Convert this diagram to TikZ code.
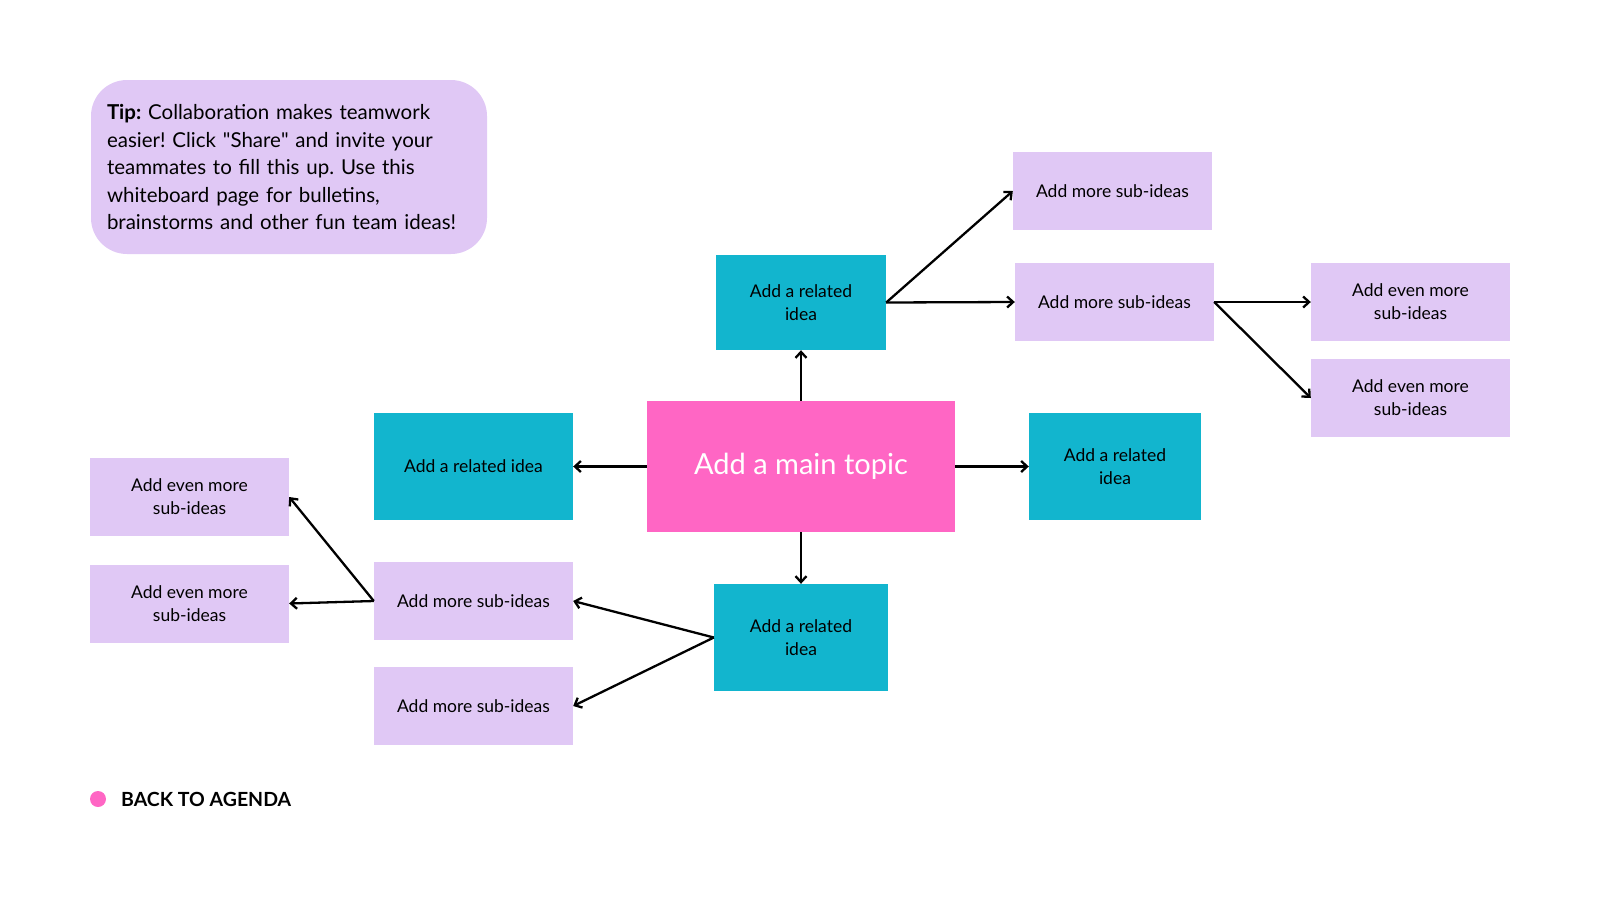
\documentclass[tikz,border=0pt]{standalone}
\usepackage{fontspec}
\setmainfont{Lato}
\usetikzlibrary{arrows.meta}
\frenchspacing

\definecolor{ideateal}{HTML}{12B5CE}
\definecolor{topicpink}{HTML}{FF66C4}
\definecolor{sublilac}{HTML}{E0C8F5}

\tikzset{
    topic/.style={fill=topicpink, text=white, minimum width=308, minimum height=131, inner sep=0, font=\fontsize{29}{33}\selectfont},
    related/.style={fill=ideateal, minimum height=107, inner sep=0, align=center, font=\fontsize{17.5}{23}\selectfont},
    subidea/.style={fill=sublilac, minimum width=199, minimum height=78, inner sep=0, align=center, font=\fontsize{17.5}{23}\selectfont},
    link/.style={-{Straight Barb[length=6pt, width=11pt]}, line width=2.3pt},
}

\begin{document}
\begin{tikzpicture}[x=1pt, y=-1pt]
    \useasboundingbox (0,0) rectangle (1600,900);

    \node[fill=sublilac, rounded corners=36, text width=364, minimum height=174, inner xsep=16, align=left,
          font=\fontsize{20.5}{27.5}\selectfont] (tip) at (289,167)
        {\textbf{Tip:} Collaboration makes teamwork\\
         easier! Click \textquotedbl Share\textquotedbl{} and invite your\\
         teammates to fill this up. Use this\\
         whiteboard page for bulletins,\\
         brainstorms and other fun team ideas!};

    \node[topic] (main) at (801,466.5) {Add a main topic};

    \node[related, minimum width=170, minimum height=95] (reltop) at (801,302.5) {Add a related\\idea};
    \node[related, minimum width=199] (relleft) at (473.5,466.5) {Add a related idea};
    \node[related, minimum width=172] (relright) at (1115,466.5) {Add a related\\idea};
    \node[related, minimum width=174] (relbot) at (801,637.5) {Add a related\\idea};

    \node[subidea] (subone) at (1112.5,191) {Add more sub-ideas};
    \node[subidea] (subtwo) at (1114.5,302) {Add more sub-ideas};
    \node[subidea] (subthree) at (473.5,601) {Add more sub-ideas};
    \node[subidea] (subfour) at (473.5,706) {Add more sub-ideas};

    \node[subidea] (evenone) at (1410.5,302) {Add even more\\sub-ideas};
    \node[subidea] (eventwo) at (1410.5,398) {Add even more\\sub-ideas};
    \node[subidea] (eventhree) at (189.5,497) {Add even more\\sub-ideas};
    \node[subidea] (evenfour) at (189.5,603.5) {Add even more\\sub-ideas};

    \draw[link] (main.north) -- (reltop.south);
    \draw[link] (main.west) -- (relleft.east);
    \draw[link] (main.east) -- (relright.west);
    \draw[link] (main.south) -- (relbot.north);

    \draw[link] (reltop.east) -- (subone.west);
    \draw[link] (reltop.east) -- (subtwo.west);
    \draw[link] (subtwo.east) -- (evenone.west);
    \draw[link] (subtwo.east) -- (eventwo.west);

    \draw[link] (relbot.west) -- (subthree.east);
    \draw[link] (relbot.west) -- (subfour.east);
    \draw[link] (subthree.west) -- (eventhree.east);
    \draw[link] (subthree.west) -- (evenfour.east);

    \node[circle, fill=topicpink, minimum size=16, inner sep=0] (dot) at (98,799) {};
    \node[anchor=west, inner sep=0, font=\bfseries\fontsize{19.5}{23}\selectfont] (back) at (121,799) {BACK TO AGENDA};
\end{tikzpicture}
\end{document}
